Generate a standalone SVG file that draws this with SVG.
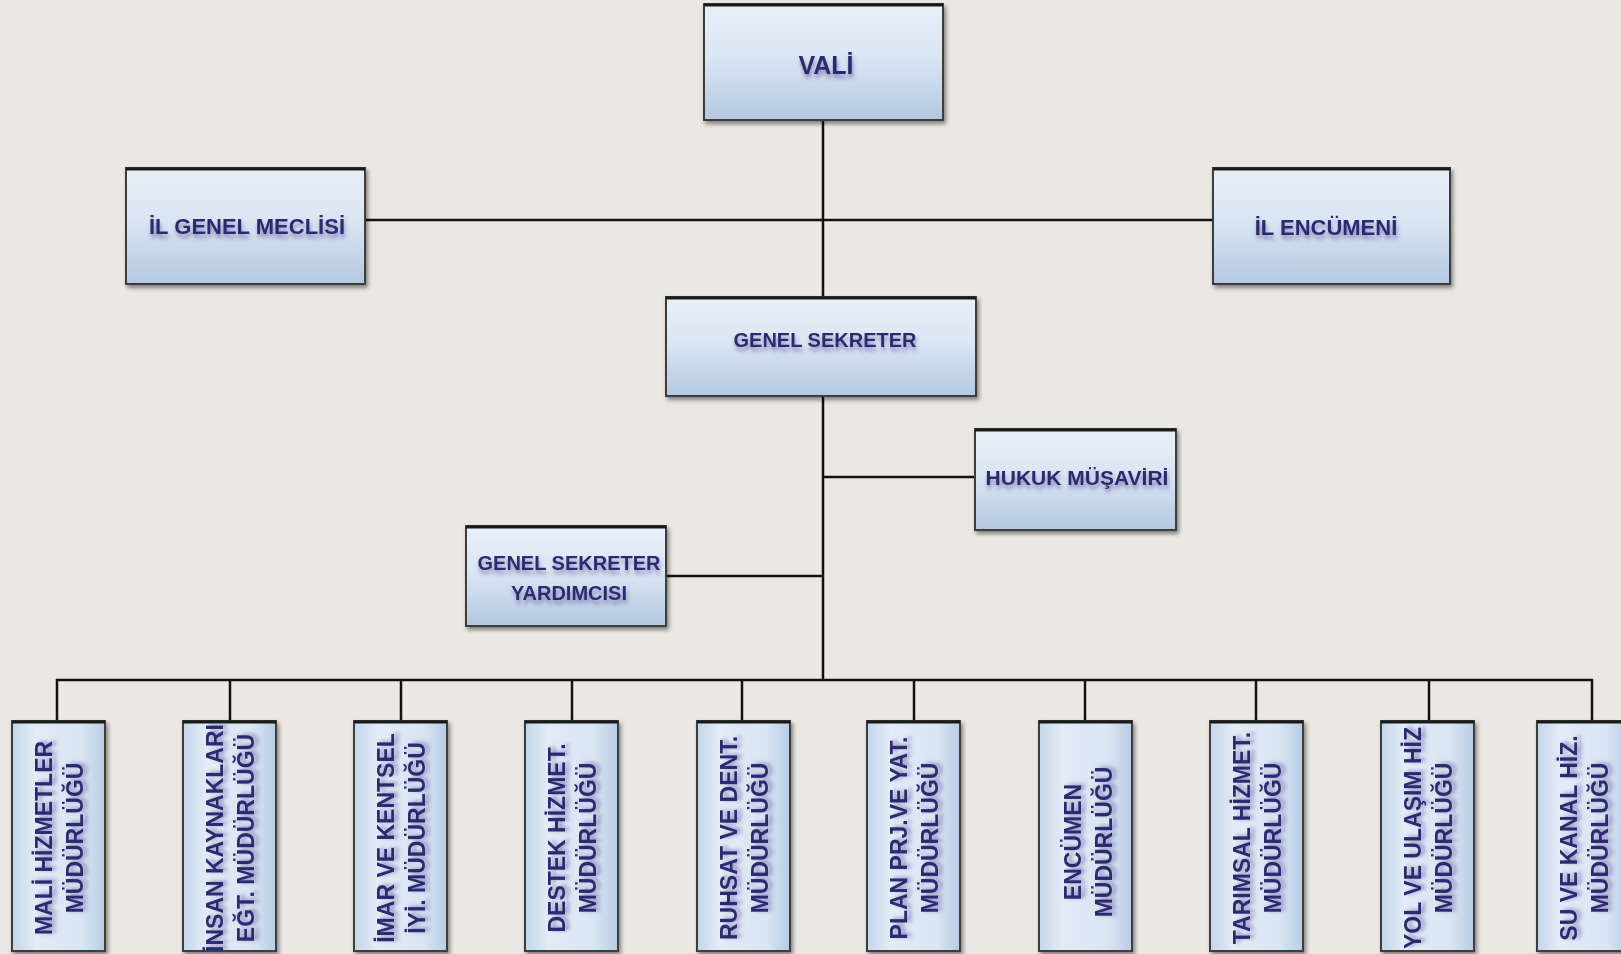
<svg xmlns="http://www.w3.org/2000/svg" width="1621" height="954" viewBox="0 0 1621 954">
<defs>
<linearGradient id="boxg" x1="0" y1="0" x2="0" y2="1">
<stop offset="0" stop-color="#e8eff8"/>
<stop offset="0.45" stop-color="#dbe6f3"/>
<stop offset="1" stop-color="#b3c8e1"/>
</linearGradient>
<linearGradient id="tallg" x1="0" y1="0" x2="1" y2="0">
<stop offset="0" stop-color="#c3d5ea"/>
<stop offset="0.25" stop-color="#e3ecf7"/>
<stop offset="0.75" stop-color="#d9e5f3"/>
<stop offset="1" stop-color="#b8cce4"/>
</linearGradient>
<filter id="bs" x="-10%" y="-10%" width="125%" height="125%">
<feDropShadow dx="2" dy="3" stdDeviation="2" flood-color="#000" flood-opacity="0.45"/>
</filter>
<filter id="ts" x="-10%" y="-60%" width="120%" height="230%">
<feGaussianBlur in="SourceAlpha" stdDeviation="2.2" result="b"/>
<feOffset in="b" dx="1" dy="4" result="o"/>
<feFlood flood-color="#5a4b98" flood-opacity="0.6"/>
<feComposite in2="o" operator="in" result="s"/>
<feMerge><feMergeNode in="s"/><feMergeNode in="SourceGraphic"/></feMerge>
</filter>
</defs>
<style>
.box{fill:url(#boxg);stroke:#3d3d3d;stroke-width:2;filter:url(#bs)}
.tall{fill:url(#tallg);stroke:#3d3d3d;stroke-width:2;filter:url(#bs)}
.top{stroke:#1a1a1a;stroke-width:3}
.t{font-family:"Liberation Sans",Arial,sans-serif;font-weight:bold;fill:#2c2a70;text-anchor:middle;filter:url(#ts)}
.c{stroke:#111;stroke-width:2.5;fill:none}
</style>
<rect width="1621" height="954" fill="#ebe8e3"/>

<g id="connectors">
<line class="c" x1="823" y1="120" x2="823" y2="297"/>
<line class="c" x1="365" y1="220" x2="1213" y2="220"/>
<line class="c" x1="823" y1="396" x2="823" y2="680"/>
<line class="c" x1="823" y1="477" x2="975" y2="477"/>
<line class="c" x1="666" y1="576" x2="823" y2="576"/>
<line class="c" x1="56" y1="680" x2="1593" y2="680"/>
<line class="c" x1="57" y1="679" x2="57" y2="721"/>
<line class="c" x1="230" y1="680" x2="230" y2="721"/>
<line class="c" x1="401" y1="680" x2="401" y2="721"/>
<line class="c" x1="572" y1="680" x2="572" y2="721"/>
<line class="c" x1="742" y1="680" x2="742" y2="721"/>
<line class="c" x1="914" y1="680" x2="914" y2="721"/>
<line class="c" x1="1085" y1="680" x2="1085" y2="721"/>
<line class="c" x1="1256" y1="680" x2="1256" y2="721"/>
<line class="c" x1="1429" y1="680" x2="1429" y2="721"/>
<line class="c" x1="1592" y1="679" x2="1592" y2="721"/>
</g>

<g id="vali">
<rect class="box" x="704" y="4" width="239" height="116"/>
<line class="top" x1="704" y1="5" x2="943" y2="5"/>
<text class="t" x="826" y="74" font-size="25">VALİ</text>
</g>

<g id="il-genel-meclisi">
<rect class="box" x="126" y="168" width="239" height="116"/>
<line class="top" x1="126" y1="169" x2="365" y2="169"/>
<text class="t" x="247" y="234" font-size="22">İL GENEL MECLİSİ</text>
</g>

<g id="il-encumeni">
<rect class="box" x="1213" y="168" width="237" height="116"/>
<line class="top" x1="1213" y1="169" x2="1450" y2="169"/>
<text class="t" x="1326" y="235" font-size="22">İL ENCÜMENİ</text>
</g>

<g id="genel-sekreter">
<rect class="box" x="666" y="297" width="310" height="99"/>
<line class="top" x1="666" y1="298" x2="976" y2="298"/>
<text class="t" x="825" y="347" font-size="20">GENEL SEKRETER</text>
</g>

<g id="hukuk-musaviri">
<rect class="box" x="975" y="429" width="201" height="101"/>
<line class="top" x1="975" y1="430" x2="1176" y2="430"/>
<text class="t" x="1077" y="485" font-size="21">HUKUK MÜŞAVİRİ</text>
</g>

<g id="genel-sekreter-yardimcisi">
<rect class="box" x="466" y="526" width="200" height="100"/>
<line class="top" x1="466" y1="527" x2="666" y2="527"/>
<text class="t" x="569" y="570" font-size="20">GENEL SEKRETER</text>
<text class="t" x="569" y="600" font-size="20">YARDIMCISI</text>
</g>

<g id="mali">
<rect class="tall" x="12" y="721" width="93" height="230"/>
<line class="top" x1="12" y1="722" x2="105" y2="722"/>
<text class="t" font-size="23" transform="translate(52 838) rotate(-90)">MALİ HİZMETLER</text>
<text class="t" font-size="23" transform="translate(83 838) rotate(-90)">MÜDÜRLÜĞÜ</text>
</g>

<g id="insan">
<rect class="tall" x="183" y="721" width="93" height="230"/>
<line class="top" x1="183" y1="722" x2="276" y2="722"/>
<text class="t" font-size="23" transform="translate(223 838) rotate(-90)">İNSAN KAYNAKLARI</text>
<text class="t" font-size="23" transform="translate(254 838) rotate(-90)">EĞT. MÜDÜRLÜĞÜ</text>
</g>

<g id="imar">
<rect class="tall" x="354" y="721" width="93" height="230"/>
<line class="top" x1="354" y1="722" x2="447" y2="722"/>
<text class="t" font-size="23" transform="translate(394 838) rotate(-90)">İMAR VE KENTSEL</text>
<text class="t" font-size="23" transform="translate(425 838) rotate(-90)">İYİ. MÜDÜRLÜĞÜ</text>
</g>

<g id="destek">
<rect class="tall" x="525" y="721" width="93" height="230"/>
<line class="top" x1="525" y1="722" x2="618" y2="722"/>
<text class="t" font-size="23" transform="translate(565 838) rotate(-90)">DESTEK  HİZMET.</text>
<text class="t" font-size="23" transform="translate(596 838) rotate(-90)">MÜDÜRLÜĞÜ</text>
</g>

<g id="ruhsat">
<rect class="tall" x="697" y="721" width="93" height="230"/>
<line class="top" x1="697" y1="722" x2="790" y2="722"/>
<text class="t" font-size="23" transform="translate(737 838) rotate(-90)">RUHSAT  VE DENT.</text>
<text class="t" font-size="23" transform="translate(768 838) rotate(-90)">MÜDÜRLÜĞÜ</text>
</g>

<g id="plan">
<rect class="tall" x="867" y="721" width="93" height="230"/>
<line class="top" x1="867" y1="722" x2="960" y2="722"/>
<text class="t" font-size="23" transform="translate(907 838) rotate(-90)">PLAN PRJ.VE YAT.</text>
<text class="t" font-size="23" transform="translate(938 838) rotate(-90)">MÜDÜRLÜĞÜ</text>
</g>

<g id="encumen">
<rect class="tall" x="1039" y="721" width="93" height="230"/>
<line class="top" x1="1039" y1="722" x2="1132" y2="722"/>
<text class="t" font-size="23" transform="translate(1081 842) rotate(-90)">ENCÜMEN</text>
<text class="t" font-size="23" transform="translate(1112 842) rotate(-90)">MÜDÜRLÜĞÜ</text>
</g>

<g id="tarimsal">
<rect class="tall" x="1210" y="721" width="93" height="230"/>
<line class="top" x1="1210" y1="722" x2="1303" y2="722"/>
<text class="t" font-size="23" transform="translate(1250 838) rotate(-90)">TARIMSAL HİZMET.</text>
<text class="t" font-size="23" transform="translate(1281 838) rotate(-90)">MÜDÜRLÜĞÜ</text>
</g>

<g id="yol">
<rect class="tall" x="1381" y="721" width="93" height="230"/>
<line class="top" x1="1381" y1="722" x2="1474" y2="722"/>
<text class="t" font-size="23" transform="translate(1421 838) rotate(-90)">YOL VE ULAŞIM HİZ</text>
<text class="t" font-size="23" transform="translate(1452 838) rotate(-90)">MÜDÜRLÜĞÜ</text>
</g>

<g id="su">
<rect class="tall" x="1537" y="721" width="93" height="230"/>
<line class="top" x1="1537" y1="722" x2="1630" y2="722"/>
<text class="t" font-size="23" transform="translate(1577 838) rotate(-90)">SU VE KANAL HİZ.</text>
<text class="t" font-size="23" transform="translate(1608 838) rotate(-90)">MÜDÜRLÜĞÜ</text>
</g>
</svg>
